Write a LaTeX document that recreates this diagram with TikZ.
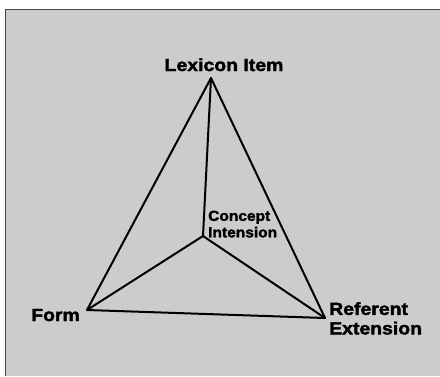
\documentclass[tikz,border=0pt]{standalone}
\usepackage{fontspec}
\newfontfamily\lblfont{Liberation Sans}[BoldFont={Liberation Sans Bold}, BoldFeatures={FakeBold=2.2}, FakeStretch=1.11]
\newfontfamily\smlfont{Liberation Sans}[BoldFont={Liberation Sans Bold}, BoldFeatures={FakeBold=2.0}, FakeStretch=1.07]
\definecolor{panel}{HTML}{CCCCCC}
\definecolor{rim}{HTML}{444444}
\begin{document}
\begin{tikzpicture}[x=1pt, y=-1pt,
  edge/.style={line width=2pt, line cap=round, line join=round},
  biglbl/.style={inner sep=0pt, font=\lblfont\bfseries\fontsize{17.5}{19.5}\selectfont},
  smalllbl/.style={inner sep=0pt, font=\smlfont\bfseries\fontsize{14.5}{16.5}\selectfont}]
  % page and grey panel
  \useasboundingbox (0,0) rectangle (440,376);
  \fill[white] (0,0) rectangle (440,376);
  \fill[panel] (5,9) rectangle (440,376);
  \draw[rim, line width=0.8pt] (440,9) -- (5,9) -- (5,376);

  % corners of the semiotic tetrahedron
  \coordinate (lex) at (211,78);
  \coordinate (con) at (203,236);
  \coordinate (frm) at (87,310);
  \coordinate (ref) at (325,318);

  % edges
  \draw[edge] (lex) -- (frm);
  \draw[edge] (lex) -- (ref);
  \draw[edge] (lex) -- (con);
  \draw[edge] (con) -- (frm);
  \draw[edge] (con) -- (ref);
  \draw[edge] (frm) -- (ref);

  % labels
  \node[biglbl, anchor=base] (lexlbl) at (224,71) {Lexicon Item};
  \node[biglbl, anchor=base east] (frmlbl) at (80,321) {Form};
  \node[biglbl, anchor=north west, align=left] (reflbl) at (329,302) {Referent\\Extension};
  \node[smalllbl, anchor=north west, align=left] (conlbl) at (208,210.5) {Concept\\Intension};
\end{tikzpicture}
\end{document}
